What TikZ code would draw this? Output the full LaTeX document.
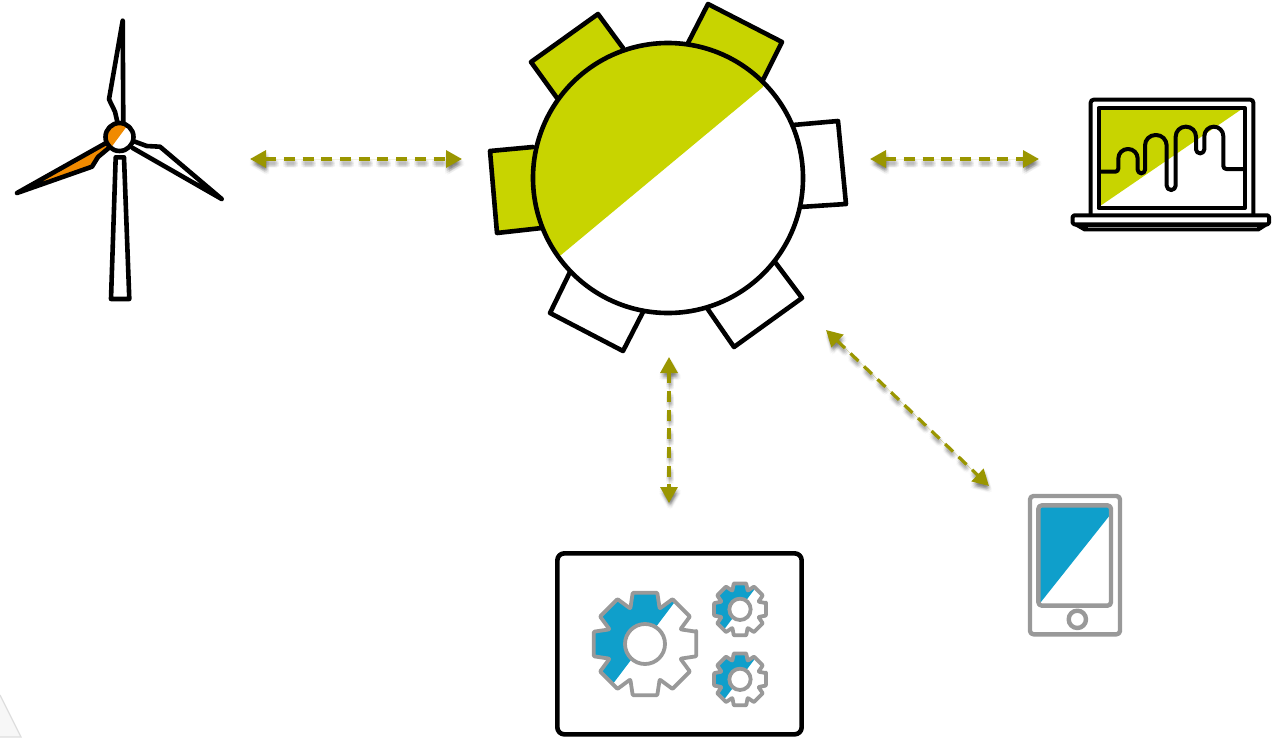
\documentclass[tikz,border=0pt]{standalone}
\usetikzlibrary{arrows.meta,calc}
\definecolor{lime}{HTML}{C8D400}
\definecolor{olivearrow}{HTML}{9A9600}
\definecolor{bluefill}{HTML}{0F9FCB}
\definecolor{greyline}{HTML}{999999}
\definecolor{orangefill}{HTML}{F08A00}
\tikzset{
  ink/.style={draw=black,line width=4.6pt,line join=round,line cap=round},
  thinink/.style={draw=black,line width=4pt,line join=round,line cap=round},
  greyink/.style={draw=greyline,line width=4.4pt,line join=round},
  gearink/.style={draw=greyline,line width=3.8pt,line join=round},
  toothlime/.style={ink,fill=lime},
  toothwhite/.style={ink,fill=white},
  twotips/.style={{Triangle[length=16pt,width=17pt]}-{Triangle[length=16pt,width=17pt]}},
  link/.style={twotips,draw=olivearrow,fill=olivearrow,line width=3.2pt,dash pattern=on 11pt off 7.7pt},
  linkshade/.style={twotips,draw=black,fill=black,opacity=.022,line width=4pt,dash pattern=on 11pt off 7.7pt},
  zoomA/.style={shift={(1060,85)},x=.33333pt,y=-.33333pt},
}
% gear outline: centre, tip radius, valley radius
\newcommand{\gearpath}[3]{(#1)++(-13.5:#2)
  \foreach \a in {0,45,...,315}{ -- ($(#1)+(\a-13.5:#2)$) -- ($(#1)+(\a+13.5:#2)$) -- ($(#1)+(\a+22.5:#3)$)} -- cycle}
\begin{document}
\begin{tikzpicture}[x=1pt,y=-1pt]
\useasboundingbox (0,0) rectangle (1286,737);
\fill[white] (0,0) rectangle (1286,737);
% faint corner
\path[fill=black!3,draw=black!13,line width=1.2pt] (0,695) -- (21,737) -- (0,737);

% ---- connector ends
\coordinate (windL) at (250,159);
\coordinate (hubL) at (462,159);
\coordinate (hubR) at (870,159);
\coordinate (lapL) at (1039,159);
\coordinate (hubB) at (669,357);
\coordinate (boxT) at (669,503);
\coordinate (hubD) at (826,330);
\coordinate (phoneT) at (989,486);

\foreach \dx/\dy in {-1/2,0/1.5,1/2,2/2,3/3,-1/4,0/3.5,1/3,2/4,3/4.5,0/5.5,1/5,2/6,-1/6,3/6,1/7}{
  \foreach \p/\q in {windL/hubL,hubR/lapL,hubB/boxT,hubD/phoneT}{
    \draw[linkshade,transform canvas={xshift=\dx pt,yshift=-\dy pt}] (\p) -- (\q);
  }
}
\foreach \p/\q in {windL/hubL,hubR/lapL,hubB/boxT,hubD/phoneT}{
  \draw[link] (\p) -- (\q);
}

% ---- central gear
\draw[toothlime] (623,48) -- (598,14) -- (531,62) -- (557,98);
\draw[toothlime] (688,43) -- (708,4) -- (782,42) -- (762,82);
\draw[toothlime] (533,147) -- (490,151) -- (497,233) -- (542,228);
\draw[toothwhite] (793,125) -- (838,121) -- (846,204) -- (800,207);
\draw[toothwhite] (775,262) -- (802,298) -- (734,347) -- (707,308);
\draw[toothwhite] (643,312) -- (623,351) -- (550,313) -- (570,272);
\coordinate (gearC) at (668,178);
\fill[white] (gearC) circle (135);
\begin{scope}
  \clip (gearC) circle (135);
  \fill[lime] (561,255) -- (763,87) -- (763,0) -- (500,0) -- (500,255) -- cycle;
\end{scope}
\draw[ink] (gearC) circle (135);

% ---- wind turbine
\draw[ink] (115.7,157.3) -- (124,157.3) -- (129.3,299) -- (111,299) -- cycle;
\draw[ink] (123.3,122) -- (122.7,20.7) -- (109,99.3) -- (115,111.7) -- (117.3,121.7);
\draw[ink,fill=orangefill] (106,143) -- (17,193) -- (92,166.7) -- (98,157) -- (110,147);
\draw[ink] (132.7,148) -- (221.7,199) -- (160,146.7) -- (146.7,146) -- (135,141.7);
\coordinate (windC) at (119.5,137);
\fill[white] (windC) circle (14);
\begin{scope}
  \clip (windC) circle (14);
  \fill[orangefill] (128.5,124) -- (110,149) -- (100,120) -- cycle;
\end{scope}
\draw[ink] (windC) circle (14);

% ---- laptop
\begin{scope}[zoomA]
  \draw[thinink,fill=white,rounded corners=3pt] (92,388) -- (92,44) -- (580,44) -- (580,388);
  \fill[lime] (116,69) -- (550,69) -- (116,366) -- cycle;
  \draw[thinink] (116,69) rectangle (555,369);
  \draw[draw=black,line width=4pt,line join=round]
    (118,260) [rounded corners=3pt] -- (175,260)
    [rounded corners=9.5pt] -- (175,192) -- (233,192)
    [rounded corners=3.6pt] -- (233,265) -- (255,265)
    [rounded corners=10.5pt] -- (255,150) -- (320,150)
    [rounded corners=4.4pt] -- (320,315) -- (347,315)
    [rounded corners=10pt] -- (347,125) -- (408,125)
    [rounded corners=4pt] -- (408,205) -- (433,205)
    [rounded corners=9.5pt] -- (433,125) -- (490,125)
    [rounded corners=3pt] -- (490,252) -- (552,252);
  \draw[thinink,fill=white,rounded corners=1.5pt] (38,391) -- (627,391) -- (627,418) -- (38,418) -- cycle;
  \fill[black] (35,418) -- (72,439) -- (597,439) -- (630,418) -- cycle;
  \draw[draw=black!45,line width=.5pt] (85,427) -- (590,427);
\end{scope}

% ---- tablet
\begin{scope}[shift={(1010,480)},x=.33333pt,y=-.33333pt]
  \draw[greyink,fill=white,rounded corners=3.5pt] (60,48) rectangle (330,463);
  \fill[bluefill] (88,80) -- (300,80) -- (300,105) -- (88,372) -- cycle;
  \draw[greyink,rounded corners=3.5pt] (85,76) rectangle (303,377);
  \draw[greyink] (202,418) circle (26);
\end{scope}

% ---- box with gears
\begin{scope}[shift={(550,545)},x=.33333pt,y=-.33333pt]
  \draw[ink,fill=white,rounded corners=7pt] (22,25) rectangle (755,568);
  % big gear
  \coordinate (bigC) at (285,297);
  \begin{scope}
    \clip \gearpath{bigC}{158}{115};
    \fill[bluefill] (375,170) -- (190,415) -- (100,415) -- (100,100) -- (375,100) -- cycle;
  \end{scope}
  \draw[gearink,rounded corners=.8pt] \gearpath{bigC}{158}{115};
  \draw[gearink,fill=white] (bigC) circle (60);
  % small gears
  \foreach \nm/\yy in {smallA/193,smallB/403}{
    \coordinate (\nm) at (570,\yy);
    \begin{scope}
      \clip \gearpath{\nm}{80}{60};
      \fill[bluefill] (612,\yy-58) -- (525,\yy+57) -- (480,\yy+57) -- (480,\yy-100) -- (612,\yy-100) -- cycle;
    \end{scope}
    \draw[gearink,rounded corners=.6pt] \gearpath{\nm}{80}{60};
    \draw[gearink,fill=white] (\nm) circle (32);
  }
\end{scope}
\end{tikzpicture}
\end{document}
